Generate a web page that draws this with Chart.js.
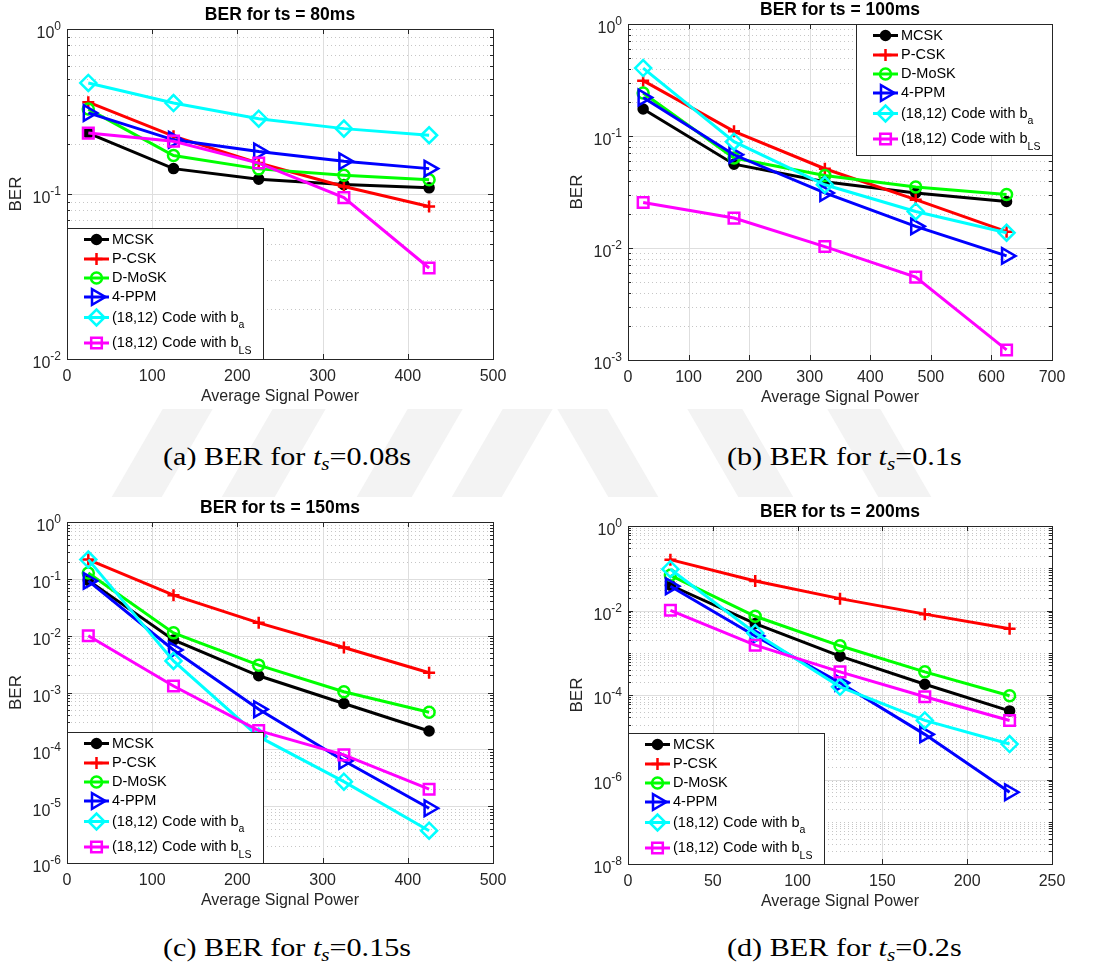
<!DOCTYPE html>
<html>
<head>
<meta charset="utf-8">
<script src="https://cdn.jsdelivr.net/npm/chart.js@4.4.0/dist/chart.umd.min.js"></script>
<style>
  body { margin: 0; width: 1110px; height: 979px; background: #fff; position: relative; overflow: hidden; }
  #mark { position: absolute; left: 0; top: 0; }
  canvas { position: absolute; background: #fff; }
  .cap { position: absolute; font-family: "Liberation Serif", serif; font-size: 26px; line-height: 26px; white-space: nowrap; color: #000; transform: scaleX(1.16); transform-origin: left center; }
  .cap sub { font-size: 0.7em; line-height: 0; vertical-align: -0.3em; font-style: italic; }
</style>
</head>
<body>
<svg id="mark" width="1110" height="979">
  <g fill="#f3f3f3">
    <polygon points="165,405 215,405 160,500 110,500"/>
    <polygon points="275,405 328,405 273,500 220,500"/>
    <polygon points="410,405 465,405 410,500 355,500"/>
    <polygon points="505,405 555,405 500,500 450,500"/>
    <polygon points="555,405 605,405 660,500 610,500"/>
    <polygon points="685,405 740,405 795,500 740,500"/>
    <polygon points="825,405 878,405 933,500 880,500"/>
  </g>
</svg>

<canvas id="c80" width="555" height="409" style="left:0;top:0"></canvas>
<canvas id="c100" width="555" height="409" style="left:555px;top:0"></canvas>
<canvas id="c150" width="555" height="433" style="left:0;top:497px"></canvas>
<canvas id="c200" width="555" height="433" style="left:555px;top:497px"></canvas>

<div class="cap" style="left:163px;top:444px">(a) BER for <i>t</i><sub>s</sub>=0.08s</div>
<div class="cap" style="left:727px;top:444px">(b) BER for <i>t</i><sub>s</sub>=0.1s</div>
<div class="cap" style="left:163px;top:935px">(c) BER for <i>t</i><sub>s</sub>=0.15s</div>
<div class="cap" style="left:727px;top:935px">(d) BER for <i>t</i><sub>s</sub>=0.2s</div>

<script>
// series names (text after '_' is drawn as a subscript in the legend)
const seriesNames = ['MCSK', 'P-CSK', 'D-MoSK', '4-PPM', '(18,12) Code with b_a', '(18,12) Code with b_LS'];

// ts = 80 ms
const power80 = [25, 125, 225, 325, 425];
const mcsk80 = [0.234, 0.1425, 0.123, 0.114, 0.109];
const pcsk80 = [0.36, 0.224, 0.154, 0.111, 0.084];
const dmosk80 = [0.327, 0.171, 0.142, 0.130, 0.122];
const ppm80 = [0.31, 0.213, 0.181, 0.158, 0.1425];
const codeA80 = [0.471, 0.356, 0.286, 0.249, 0.227];
const codeLS80 = [0.234, 0.209, 0.154, 0.095, 0.0356];

// ts = 100 ms
const power100 = [25, 175, 325, 475, 625];
const mcsk100 = [0.174, 0.056, 0.039, 0.031, 0.026];
const pcsk100 = [0.312, 0.11, 0.051, 0.027, 0.014];
const dmosk100 = [0.242, 0.0635, 0.0444, 0.035, 0.030];
const ppm100 = [0.221, 0.068, 0.031, 0.0156, 0.0085];
const codeA100 = [0.404, 0.089, 0.0367, 0.0212, 0.0137];
const codeLS100 = [0.0255, 0.0185, 0.0103, 0.0055, 0.00123];

// ts = 150 ms
const power150 = [25, 125, 225, 325, 425];
const mcsk150 = [0.094, 0.0084, 0.00197, 0.00064, 0.00021];
const pcsk150 = [0.218, 0.0515, 0.0168, 0.0062, 0.00223];
const dmosk150 = [0.127, 0.0112, 0.00303, 0.00103, 0.000448];
const ppm150 = [0.092, 0.0056, 0.000506, 6.3e-5, 9.2e-6];
const codeA150 = [0.218, 0.0036, 0.000167, 2.7e-5, 3.7e-6];
const codeLS150 = [0.00995, 0.0013, 0.000213, 8.0e-5, 1.99e-5];

// ts = 200 ms
const power200 = [25, 75, 125, 175, 225];
const mcsk200 = [0.0396, 0.0049, 0.00083, 0.00018, 4.2e-5];
const pcsk200 = [0.16, 0.050, 0.0191, 0.0082, 0.0037];
const dmosk200 = [0.068, 0.0073, 0.00146, 0.000353, 9.6e-5];
const ppm200 = [0.0375, 0.0025, 0.000194, 1.17e-5, 5.0e-7];
const codeA200 = [0.095, 0.00295, 0.000156, 2.5e-5, 6.9e-6];
const codeLS200 = [0.0101, 0.00151, 0.000353, 9.1e-5, 2.5e-5];

// axis ticks
const xTicks80 = [0, 100, 200, 300, 400, 500];
const xTicks100 = [0, 100, 200, 300, 400, 500, 600, 700];
const xTicks150 = [0, 100, 200, 300, 400, 500];
const xTicks200 = [0, 50, 100, 150, 200, 250];
const yExp80 = [0, -1, -2];
const yExp100 = [0, -1, -2, -3];
const yExp150 = [0, -1, -2, -3, -4, -5, -6];
const yExp200 = [0, -2, -4, -6, -8];

const styles = [
  { color: '#000000', pointStyle: 'circle', radius: 4.5, filled: true },
  { color: '#ff0000', pointStyle: 'cross', radius: 6 },
  { color: '#00ff00', pointStyle: 'circle', radius: 5.5 },
  { color: '#0000ff', pointStyle: 'triangle', radius: 9, rotation: 90 },
  { color: '#00ffff', pointStyle: 'rectRot', radius: 8 },
  { color: '#ff00ff', pointStyle: 'rect', radius: 7.5 }
];

const AXIS = '#262626';
const FONT = '"Liberation Sans", Arial, sans-serif';

function hline(ctx, x1, x2, y) { ctx.beginPath(); ctx.moveTo(x1, y); ctx.lineTo(x2, y); ctx.stroke(); }
function vline(ctx, x, y1, y2) { ctx.beginPath(); ctx.moveTo(x, y1); ctx.lineTo(x, y2); ctx.stroke(); }

function minorValues(yScale, yExp) {
  const out = [];
  const lo = Math.round(Math.log10(yScale.min));
  for (let n = lo; n < 0; n++) {
    for (let k = 1; k <= 9; k++) {
      if (k === 1 && yExp.includes(n)) continue;
      out.push(k * Math.pow(10, n));
    }
  }
  return out;
}

// MATLAB-like box, grid, tick labels, titles and legend
function makeAxes(cfg) {
  return {
    id: 'matlabAxes',
    beforeDatasetsDraw(chart) {
      const { ctx, chartArea: a, scales: { x, y } } = chart;
      ctx.save();
      ctx.lineWidth = 1;
      ctx.strokeStyle = '#c6c6c6';
      ctx.setLineDash([1, 3]);
      minorValues(y, cfg.yExp).forEach(v => {
        hline(ctx, a.left, a.right, Math.round(y.getPixelForValue(v)) + 0.5);
      });
      ctx.setLineDash([]);
      ctx.strokeStyle = '#dedede';
      cfg.yExp.forEach(e => hline(ctx, a.left, a.right, Math.round(y.getPixelForValue(Math.pow(10, e))) + 0.5));
      cfg.xTicks.forEach(t => vline(ctx, Math.round(x.getPixelForValue(t)) + 0.5, a.top, a.bottom));

      // box and inward ticks
      ctx.strokeStyle = AXIS;
      ctx.strokeRect(Math.round(a.left) + 0.5, Math.round(a.top) + 0.5, Math.round(a.right - a.left), Math.round(a.bottom - a.top));
      cfg.xTicks.forEach(t => {
        const px = Math.round(x.getPixelForValue(t)) + 0.5;
        vline(ctx, px, a.bottom, a.bottom - 5);
        vline(ctx, px, a.top, a.top + 5);
      });
      cfg.yExp.forEach(e => {
        const py = Math.round(y.getPixelForValue(Math.pow(10, e))) + 0.5;
        hline(ctx, a.left, a.left + 5, py);
        hline(ctx, a.right, a.right - 5, py);
      });
      minorValues(y, cfg.yExp).forEach(v => {
        const py = Math.round(y.getPixelForValue(v)) + 0.5;
        hline(ctx, a.left, a.left + 3, py);
        hline(ctx, a.right, a.right - 3, py);
      });
      ctx.restore();
    },
    afterDraw(chart) {
      const { ctx, chartArea: a, scales: { x, y } } = chart;
      ctx.save();
      ctx.fillStyle = AXIS;
      ctx.textBaseline = 'middle';

      // x tick labels
      ctx.font = '16px ' + FONT;
      ctx.textAlign = 'center';
      cfg.xTicks.forEach(t => ctx.fillText(String(t), x.getPixelForValue(t), a.bottom + 18));

      // y tick labels as 10 with a raised exponent
      ctx.textAlign = 'left';
      cfg.yExp.forEach(e => {
        const py = y.getPixelForValue(Math.pow(10, e));
        const sup = String(e);
        ctx.font = '12px ' + FONT;
        const ws = ctx.measureText(sup).width;
        ctx.font = '16px ' + FONT;
        const wb = ctx.measureText('10').width;
        const right = a.left - 6;
        ctx.fillText('10', right - ws - wb, py + 5);
        ctx.font = '12px ' + FONT;
        ctx.fillText(sup, right - ws, py - 2);
      });

      // axis titles
      ctx.font = '16px ' + FONT;
      ctx.textAlign = 'center';
      ctx.fillText('Average Signal Power', (a.left + a.right) / 2, a.bottom + 38);
      ctx.font = '17px ' + FONT;
      ctx.save();
      ctx.translate(a.left - 51, (a.top + a.bottom) / 2);
      ctx.rotate(-Math.PI / 2);
      ctx.fillText('BER', 0, 0);
      ctx.restore();

      // title
      ctx.fillStyle = '#000';
      ctx.font = 'bold 17.5px ' + FONT;
      ctx.fillText(cfg.title, (a.left + a.right) / 2, a.top - 14);

      drawLegend(chart, cfg.legend);
      ctx.restore();
    }
  };
}

function drawLegend(chart, corner) {
  const { ctx, chartArea: a } = chart;
  const rows = [11.5, 31, 50, 69, 89.5, 115];
  const h = 131;
  const parts = chart.data.datasets.map(ds => ds.label.split('_'));
  let maxW = 0;
  parts.forEach(p => {
    ctx.font = '14.5px ' + FONT;
    let w = ctx.measureText(p[0]).width;
    if (p[1]) { ctx.font = '10.5px ' + FONT; w += ctx.measureText(p[1]).width; }
    maxW = Math.max(maxW, w);
  });
  const w = Math.round(45 + maxW + 12);
  const bx = corner === 'ne' ? Math.round(a.right) - w : Math.round(a.left);
  const by = corner === 'ne' ? Math.round(a.top) : Math.round(a.bottom) - h;

  ctx.fillStyle = '#fff';
  ctx.fillRect(bx, by, w, h);
  ctx.strokeStyle = AXIS;
  ctx.lineWidth = 1;
  ctx.strokeRect(bx + 0.5, by + 0.5, w, h);

  chart.data.datasets.forEach((ds, i) => {
    const st = styles[i];
    const yy = by + rows[i];
    ctx.strokeStyle = st.color;
    ctx.lineWidth = 3;
    hline(ctx, bx + 17, bx + 42, yy);
    ctx.lineWidth = 2.5;
    ctx.fillStyle = st.filled ? st.color : 'rgba(0,0,0,0)';
    Chart.helpers.drawPoint(ctx, { pointStyle: st.pointStyle, rotation: st.rotation || 0, radius: st.radius, borderWidth: 2.5 }, bx + 29.5, yy);

    ctx.fillStyle = '#000';
    ctx.textAlign = 'left';
    ctx.textBaseline = 'middle';
    ctx.font = '14.5px ' + FONT;
    const p = parts[i];
    ctx.fillText(p[0], bx + 45, yy);
    if (p[1]) {
      const wb = ctx.measureText(p[0]).width;
      ctx.font = '10.5px ' + FONT;
      ctx.fillText(p[1], bx + 45 + wb, yy + 8);
    }
  });
}

function makeChart(id, cfg) {
  const datasets = cfg.series.map((vals, i) => {
    const st = styles[i];
    const bg = st.filled ? st.color : 'rgba(0,0,0,0)';
    return {
      label: seriesNames[i],
      data: cfg.xs.map((x, j) => ({ x: x, y: vals[j] })),
      borderColor: st.color,
      backgroundColor: bg,
      borderWidth: 3,
      pointStyle: st.pointStyle,
      pointRotation: st.rotation || 0,
      pointRadius: st.radius,
      pointBorderWidth: 2.5,
      pointBorderColor: st.color,
      pointBackgroundColor: bg,
      fill: false,
      tension: 0,
      order: cfg.series.length - i
    };
  });
  new Chart(document.getElementById(id), {
    type: 'line',
    data: { datasets: datasets },
    options: {
      responsive: false,
      animation: false,
      layout: { padding: cfg.padding },
      plugins: { legend: { display: false }, tooltip: { enabled: false } },
      scales: {
        x: { type: 'linear', display: false, min: 0, max: cfg.xTicks[cfg.xTicks.length - 1] },
        y: { type: 'logarithmic', display: false, min: Math.pow(10, cfg.yExp[cfg.yExp.length - 1]), max: 1 }
      }
    },
    plugins: [makeAxes(cfg)]
  });
}

makeChart('c80', {
  title: 'BER for ts = 80ms', xs: power80, xTicks: xTicks80, yExp: yExp80, legend: 'sw',
  series: [mcsk80, pcsk80, dmosk80, ppm80, codeA80, codeLS80],
  padding: { left: 67, top: 29, right: 62, bottom: 50 }
});
makeChart('c100', {
  title: 'BER for ts = 100ms', xs: power100, xTicks: xTicks100, yExp: yExp100, legend: 'ne',
  series: [mcsk100, pcsk100, dmosk100, ppm100, codeA100, codeLS100],
  padding: { left: 73, top: 24, right: 58, bottom: 49 }
});
makeChart('c150', {
  title: 'BER for ts = 150ms', xs: power150, xTicks: xTicks150, yExp: yExp150, legend: 'sw',
  series: [mcsk150, pcsk150, dmosk150, ppm150, codeA150, codeLS150],
  padding: { left: 67, top: 25, right: 62, bottom: 67 }
});
makeChart('c200', {
  title: 'BER for ts = 200ms', xs: power200, xTicks: xTicks200, yExp: yExp200, legend: 'sw',
  series: [mcsk200, pcsk200, dmosk200, ppm200, codeA200, codeLS200],
  padding: { left: 73, top: 29, right: 58, bottom: 66 }
});
</script>
</body>
</html>
